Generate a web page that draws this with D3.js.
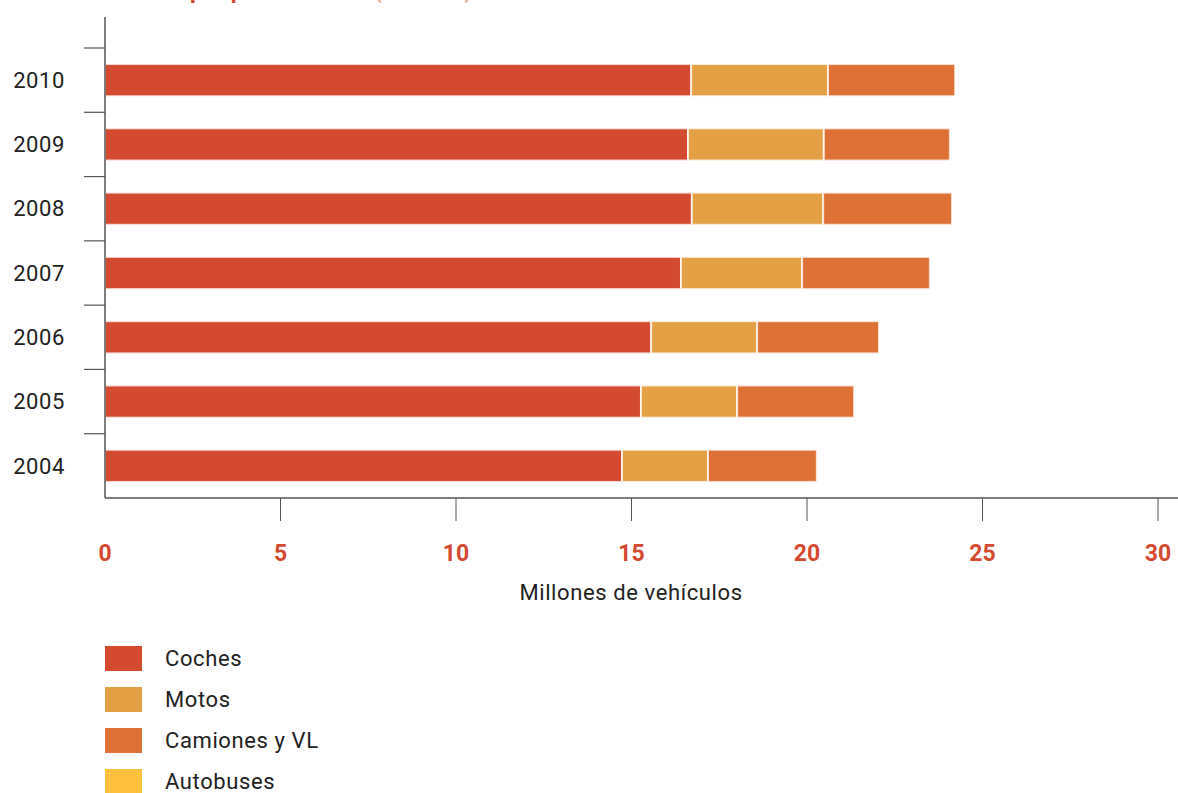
<!DOCTYPE html>
<html>
<head>
<meta charset="utf-8">
<script src="https://cdn.jsdelivr.net/npm/d3@7"></script>
<style>
  body { margin: 0; background: #fff; }
  text { font-family: Roboto, "Noto Sans", sans-serif; }
</style>
</head>
<body>
<svg id="paper"></svg>
<script>
// chart data (millones de vehículos)
let years = ["2004", "2005", "2006", "2007", "2008", "2009", "2010"];
let coches = [14.73, 15.27, 15.56, 16.41, 16.72, 16.61, 16.70];
let motos = [2.45, 2.74, 3.02, 3.45, 3.74, 3.87, 3.90];
let camiones = [3.10, 3.33, 3.47, 3.64, 3.67, 3.59, 3.62];
let autobuses = [0, 0, 0, 0, 0, 0, 0];
let seriesNames = ["Coches", "Motos", "Camiones y VL", "Autobuses"];
let xTicks = [0, 5, 10, 15, 20, 25, 30];

let colors = d3.scaleOrdinal()
    .domain(seriesNames)
    .range(["#d44a30", "#e3a045", "#de7135", "#fdc13e"]);

let width = 1178, height = 793;
let svg = d3.select("#paper").attr("width", width).attr("height", height);

let x = d3.scaleLinear().domain([0, 30]).range([105, 1158]);
let y = d3.scaleBand().domain(years).range([498, 48])
    .paddingInner(0.5).paddingOuter(0.25);

// rows for stacking
let rows = years.map(function (yr, i) {
    return {year: yr, "Coches": coches[i], "Motos": motos[i],
        "Camiones y VL": camiones[i], "Autobuses": autobuses[i]};
});
let stacked = d3.stack().keys(seriesNames)(rows);

// title (cut off at the top of the picture, only descenders show)
svg.append("text")
    .attr("x", 185).attr("y", -2.5)
    .attr("text-anchor", "end")
    .style("font-size", "23px").style("font-weight", "bold")
    .style("fill", "#d44a30")
    .text("Evolución del");
svg.append("text")
    .attr("x", 190).attr("y", -2.5)
    .style("font-size", "23px").style("font-weight", "bold")
    .style("fill", "#d44a30")
    .text("parque total");
svg.append("text")
    .attr("x", 374).attr("y", -2.5)
    .style("font-size", "22px")
    .style("fill", "#e8906a")
    .text("(millones)");

// bars
svg.append("g").selectAll("g")
    .data(stacked)
    .enter()
    .append("g")
    .style("fill", d => colors(d.key))
    .selectAll("rect")
    .data(d => d.filter(v => v[1] > v[0]))
    .enter()
    .append("rect")
    .attr("x", d => x(d[0]))
    .attr("width", d => x(d[1]) - x(d[0]))
    .attr("y", d => y(d.data.year))
    .attr("height", y.bandwidth())
    .style("stroke", "#fff")
    .style("stroke-width", 2)
    .style("stroke-opacity", 0.75);

// y axis
let step = y.step();
svg.append("line")
    .attr("x1", 105).attr("x2", 105)
    .attr("y1", 17).attr("y2", 498)
    .style("stroke", "#555").style("stroke-width", 1.5);
svg.append("g").selectAll("line")
    .data(years)
    .enter()
    .append("line")
    .attr("x1", 84).attr("x2", 105)
    .attr("y1", d => y(d) - step * 0.25)
    .attr("y2", d => y(d) - step * 0.25)
    .style("stroke", "#555").style("stroke-width", 1.2);
svg.append("g").selectAll("text")
    .data(years)
    .enter()
    .append("text")
    .attr("x", 65)
    .attr("y", d => y(d) + y.bandwidth() / 2)
    .attr("dy", "0.35em")
    .attr("text-anchor", "end")
    .style("font-size", "22px")
    .style("letter-spacing", "0.6px")
    .style("fill", "#222")
    .text(d => d);

// x axis
svg.append("line")
    .attr("x1", 105).attr("x2", 1178)
    .attr("y1", 498).attr("y2", 498)
    .style("stroke", "#555").style("stroke-width", 1.5);
svg.append("g").selectAll("line")
    .data(xTicks.slice(1))
    .enter()
    .append("line")
    .attr("x1", d => x(d)).attr("x2", d => x(d))
    .attr("y1", 498).attr("y2", 521)
    .style("stroke", "#555").style("stroke-width", 1);
svg.append("g").selectAll("text")
    .data(xTicks)
    .enter()
    .append("text")
    .attr("x", d => x(d))
    .attr("y", 553)
    .attr("dy", "0.35em")
    .attr("text-anchor", "middle")
    .style("font-size", "23px").style("font-weight", "bold")
    .style("fill", "#d44a30")
    .text(d => d);
svg.append("text")
    .attr("x", 631).attr("y", 592)
    .attr("dy", "0.35em")
    .attr("text-anchor", "middle")
    .style("font-size", "22px")
    .style("letter-spacing", "0.6px")
    .style("fill", "#222")
    .text("Millones de vehículos");

// legend
let legend = svg.append("g").selectAll("g")
    .data(seriesNames)
    .enter()
    .append("g")
    .attr("transform", (d, i) => "translate(105," + (646 + i * 41) + ")");
legend.append("rect")
    .attr("width", 37).attr("height", 25)
    .style("fill", d => colors(d));
legend.append("text")
    .attr("x", 60).attr("y", 12.5)
    .attr("dy", "0.35em")
    .style("font-size", "22px")
    .style("letter-spacing", "0.6px")
    .style("fill", "#222")
    .text(d => d);
</script>
</body>
</html>
